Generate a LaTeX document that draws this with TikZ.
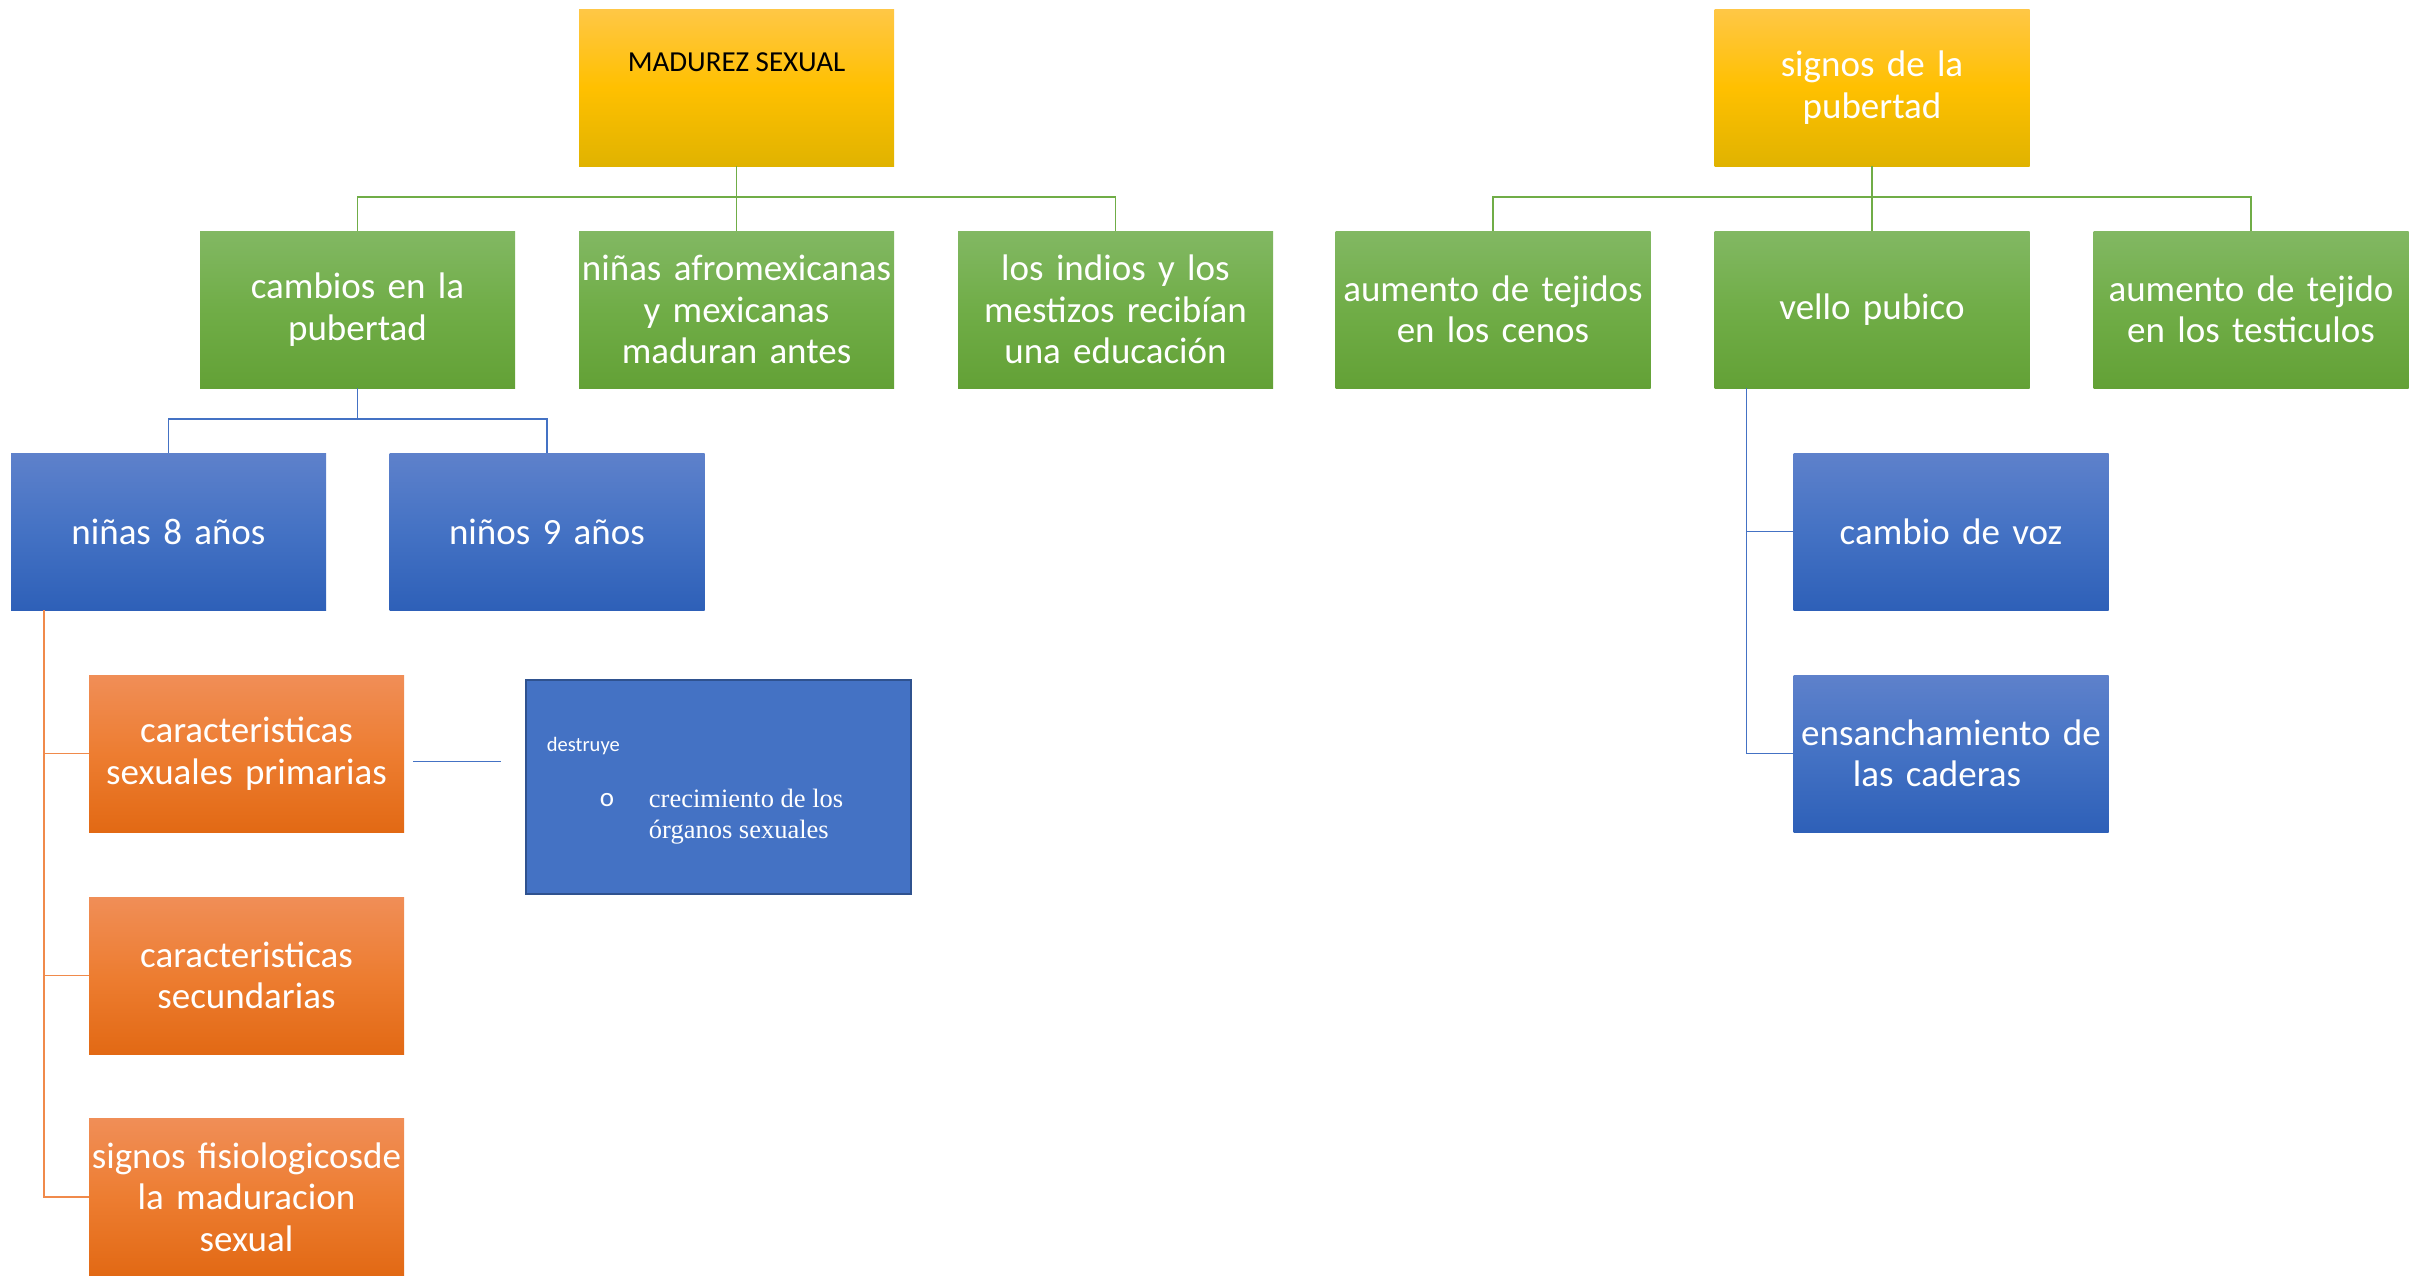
\documentclass[tikz,border=0pt]{standalone}
\usepackage{fontspec}
\setmainfont{Carlito}
\newfontfamily\serifb{Liberation Serif}
\usetikzlibrary{calc}
\definecolor{yTop}{HTML}{FFC746}
\definecolor{yMid}{HTML}{FFC000}
\definecolor{yBot}{HTML}{E0B300}
\definecolor{gTop}{HTML}{82B863}
\definecolor{gMid}{HTML}{70AD47}
\definecolor{gBot}{HTML}{63A136}
\definecolor{bTop}{HTML}{5E81CB}
\definecolor{bMid}{HTML}{4472C4}
\definecolor{bBot}{HTML}{2E60B8}
\definecolor{oTop}{HTML}{F08E57}
\definecolor{oMid}{HTML}{ED7D31}
\definecolor{oBot}{HTML}{E26914}
\definecolor{gLine}{HTML}{70AD47}
\definecolor{bLine}{HTML}{4472C4}
\definecolor{oLine}{HTML}{F08A4B}
\definecolor{tBorder}{HTML}{2F528F}
\begin{document}
\begin{tikzpicture}[x=1pt,y=-1pt,
  box/.style={minimum width=315pt, minimum height=157pt, inner sep=0pt,
    text=white, align=center, text width=313pt,
    font=\fontsize{37}{41.5}\selectfont},
  ybox/.style={box, top color=yTop, bottom color=yBot, middle color=yMid},
  gbox/.style={box, top color=gTop, bottom color=gBot, middle color=gMid},
  bbox/.style={box, top color=bTop, bottom color=bBot, middle color=bMid},
  obox/.style={box, top color=oTop, bottom color=oBot, middle color=oMid},
  gline/.style={draw=gLine, line width=1.6pt},
  bline/.style={draw=bLine, line width=1.6pt},
  oline/.style={draw=oLine, line width=1.6pt}]
\useasboundingbox (0,0) rectangle (2416,1275);

% top level
\node[ybox, label={[text=black, font=\fontsize{29}{33}\selectfont, yshift=25pt]center:MADUREZ SEXUAL}] (mad) at (736.5,87.5) {};
\node[ybox] (sig) at (1872,87.5) {signos de la\\pubertad};

% green row
\node[gbox] (cam) at (357.5,309.5) {cambios en la\\pubertad};
\node[gbox] (afro) at (736.5,309.5) {niñas afromexicanas\\y mexicanas\\maduran antes};
\node[gbox] (ind) at (1115.5,309.5) {los indios y los\\mestizos recibían\\una educación};
\node[gbox] (cen) at (1493,309.5) {aumento de tejidos\\en los cenos};
\node[gbox] (vel) at (1872,309.5) {vello pubico};
\node[gbox] (tes) at (2251,309.5) {aumento de tejido\\en los testiculos};

% blue row
\node[bbox] (nin) at (168.5,531.5) {niñas 8 años};
\node[bbox] (nio) at (547,531.5) {niños 9 años};
\node[bbox] (voz) at (1951,531.5) {cambio de voz};
\node[bbox] (cad) at (1951,753.5) {ensanchamiento de\\las caderas\hspace*{28pt}};

% orange column
\node[obox] (car1) at (246.5,753.5) {caracteristicas\\sexuales primarias};
\node[obox] (car2) at (246.5,975.5) {caracteristicas\\secundarias};
\node[obox] (car3) at (246.5,1197) {signos fisiologicosde\\la maduracion\\sexual};

% text box
\node[draw=tBorder, line width=2.5pt, fill=bMid, minimum width=385pt, minimum height=214pt, inner sep=0pt] (txt) at (718.5,787) {};
\node[anchor=west, text=white, font=\fontsize{20.5}{24}\selectfont, inner sep=0pt] (des) at ($(txt.west)+(22,-41)$) {destruye};
\node[anchor=west, text=white, font=\fontsize{27}{30}\selectfont, inner sep=0pt] (bul) at ($(txt.west)+(75,13)$) {o};
\node[anchor=north west, text=white, font=\serifb\fontsize{26.5}{31}\selectfont, align=left, inner sep=0pt] (cre) at ($(txt.west)+(124,2)$) {crecimiento de los\\órganos sexuales};

% connectors green
\foreach \c in {cam,afro,ind} \draw[gline] (mad.south) -- ++(0,31) -| (\c.north);
\foreach \c in {cen,vel,tes} \draw[gline] (sig.south) -- ++(0,31) -| (\c.north);

% blue
\foreach \c in {nin,nio} \draw[bline] (cam.south) -- ++(0,31) -| (\c.north);
\foreach \c in {voz,cad} \draw[bline] ($(vel.south west)+(32,0)$) |- (\c.west);

% orange
\foreach \c in {car1,car2,car3} \draw[oline] ($(nin.south west)+(33,0)$) |- (\c.west);

% short line
\draw[bline, shorten <=9pt, shorten >=24pt] ([yshift=-8pt]car1.east) -- ([yshift=-8pt]car1.east -| txt.west);
\end{tikzpicture}
\end{document}
